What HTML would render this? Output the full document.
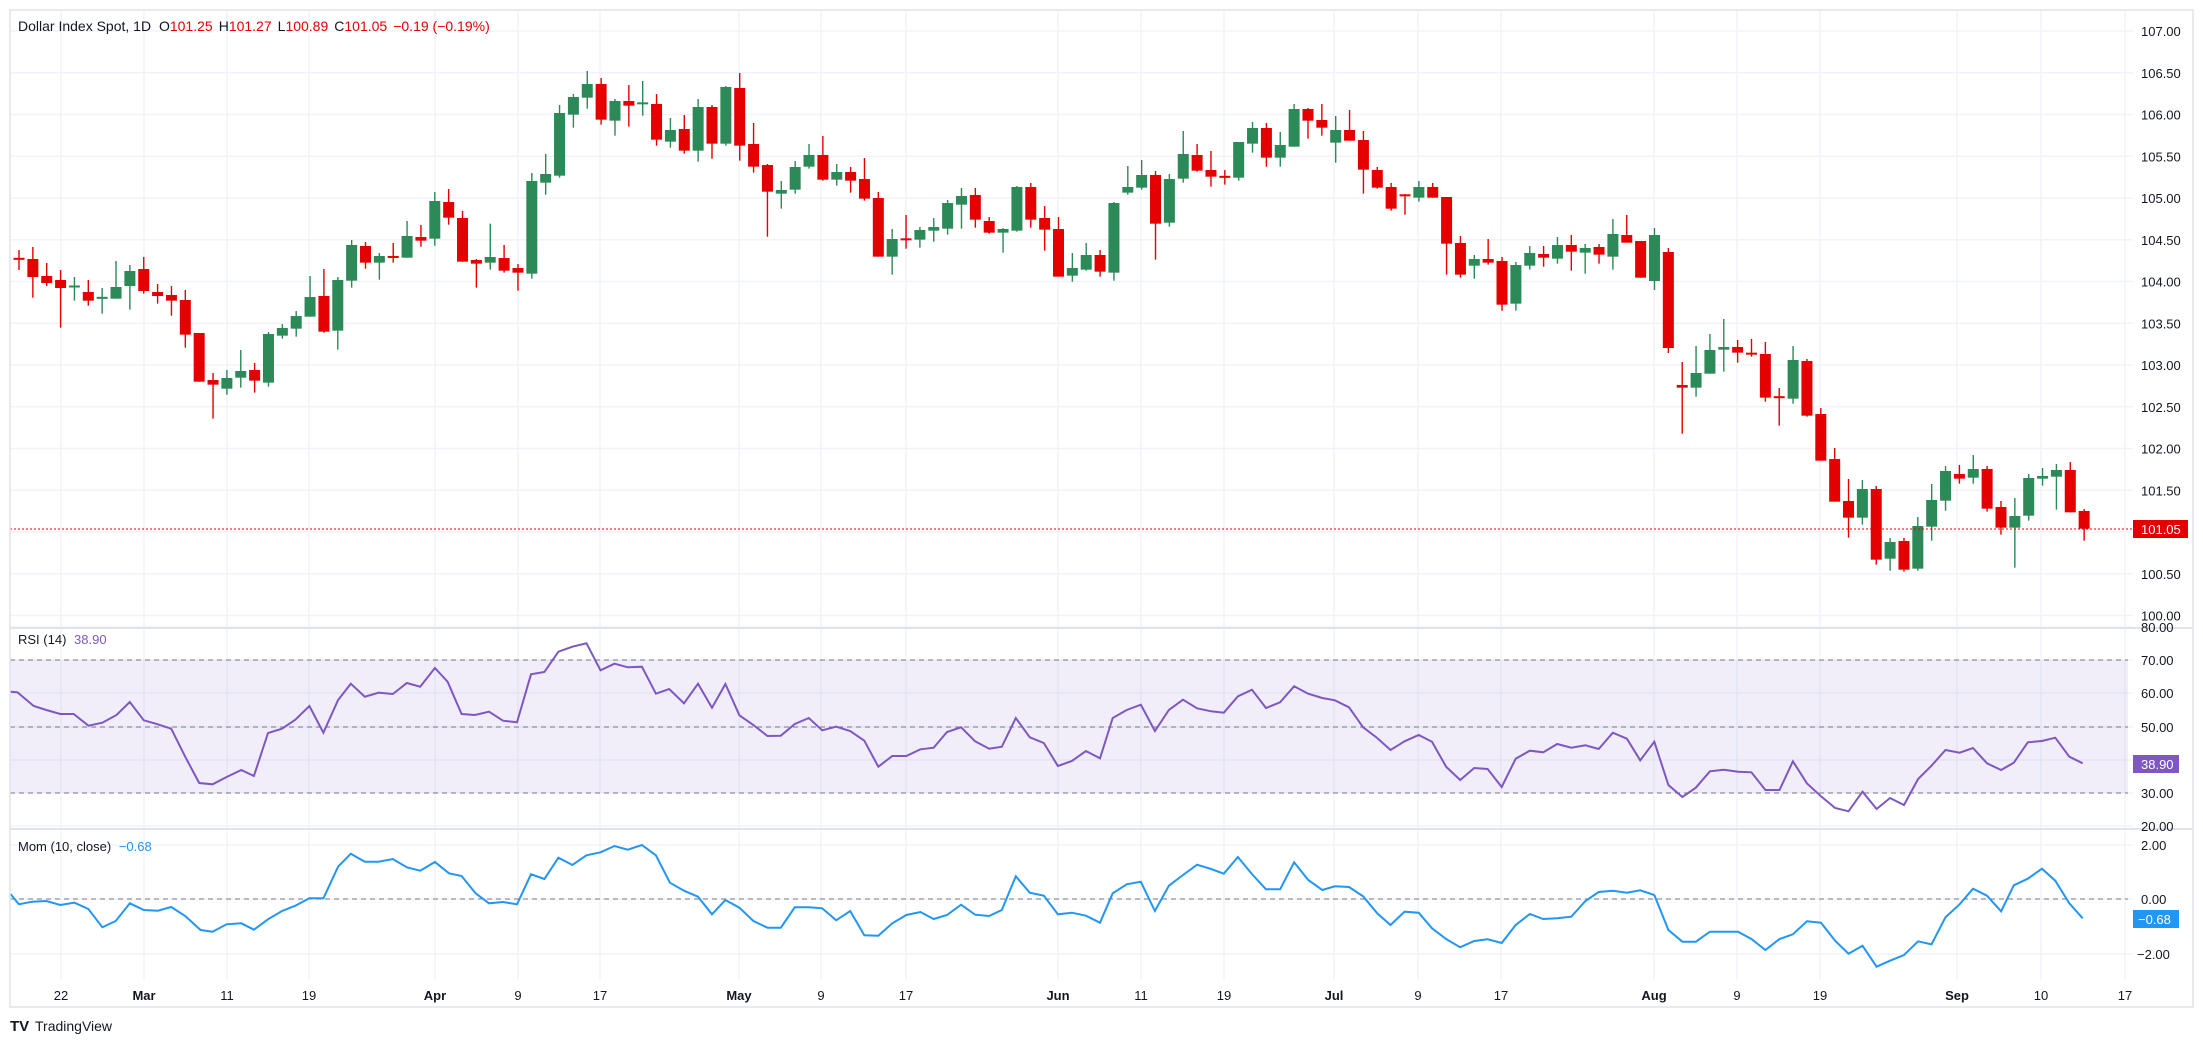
<!DOCTYPE html>
<html><head><meta charset="utf-8"><style>
html,body{margin:0;padding:0;background:#fff;}
svg{display:block;font-family:"Liberation Sans",sans-serif;}
</style></head><body>
<svg id="s" width="2203" height="1043" viewBox="0 0 2203 1043" xmlns="http://www.w3.org/2000/svg">
<rect x="0" y="0" width="2203" height="1043" fill="#fff"/>
<g id="grid"></g>
<rect x="10" y="660" width="2118" height="133" fill="#7e57c2" fill-opacity="0.1"/>
<g id="dash" stroke="#787b86" stroke-width="1" stroke-dasharray="5,4">
<line x1="10" x2="2128" y1="660" y2="660"/>
<line x1="10" x2="2128" y1="727" y2="727"/>
<line x1="10" x2="2128" y1="793" y2="793"/>
<line x1="10" x2="2128" y1="899" y2="899"/>
</g>
<g id="candles"></g>
<line x1="10" x2="2133" y1="529" y2="529" stroke="#e50000" stroke-width="1" stroke-dasharray="2,2"/>
<polyline id="rsi" fill="none" stroke="#7e57c2" stroke-width="2"/>
<polyline id="mom" fill="none" stroke="#2196f3" stroke-width="2"/>
<!-- frame -->
<rect x="10" y="10" width="2183" height="997" fill="none" stroke="#e0e3eb" stroke-width="1.5"/>
<line x1="10" x2="2193" y1="628" y2="628" stroke="#e0e3eb" stroke-width="2"/>
<line x1="10" x2="2193" y1="829" y2="829" stroke="#e0e3eb" stroke-width="2"/>
<g id="axis" font-size="13" fill="#131722"></g>
<text x="18" y="31" font-size="14" fill="#131722">Dollar Index Spot, 1D <tspan dx="4">O</tspan><tspan fill="#e50000">101.25</tspan><tspan dx="6">H</tspan><tspan fill="#e50000">101.27</tspan><tspan dx="6">L</tspan><tspan fill="#e50000">100.89</tspan><tspan dx="6">C</tspan><tspan fill="#e50000">101.05</tspan><tspan dx="6" fill="#e50000">−0.19 (−0.19%)</tspan></text>
<text x="18" y="644" font-size="13" fill="#131722">RSI (14) <tspan dx="4" fill="#7e57c2">38.90</tspan></text>
<text x="18" y="851" font-size="13" fill="#131722">Mom (10, close) <tspan dx="4" fill="#2196f3">−0.68</tspan></text>
<rect x="2133" y="520" width="55" height="18" fill="#e50000"/>
<text x="2141" y="534" font-size="13" fill="#fff">101.05</text>
<rect x="2133" y="755" width="46" height="18" fill="#7e57c2"/>
<text x="2141" y="769" font-size="13" fill="#fff">38.90</text>
<rect x="2133" y="910" width="46" height="18" fill="#2196f3"/>
<text x="2138" y="924" font-size="13" fill="#fff">−0.68</text>
<text x="10" y="1031" font-size="15" font-weight="bold" fill="#131722">TV</text>
<text x="35" y="1031" font-size="14" fill="#131722">TradingView</text>
</svg>
<script>
var NS="http://www.w3.org/2000/svg";
function el(p,t,a,txt){var e=document.createElementNS(NS,t);for(var k in a)e.setAttribute(k,a[k]);if(txt!==undefined)e.textContent=txt;p.appendChild(e);return e;}
var grid=document.getElementById('grid'),axis=document.getElementById('axis');
// price grid
var prices=['107.00','106.50','106.00','105.50','105.00','104.50','104.00','103.50','103.00','102.50','102.00','101.50','101.00','100.50','100.00'];
for(var k=0;k<15;k++){var y=31+k*41.75;el(grid,'line',{x1:10,x2:2133,y1:y,y2:y,stroke:'#f0f3fa','stroke-width':1.5});
 if(prices[k]!=='101.00')el(axis,'text',{x:2141,y:y+5},prices[k]);}
// rsi grid
[[627,'80.00'],[660,'70.00'],[693,'60.00'],[727,'50.00'],[760,'40.00'],[793,'30.00'],[826,'20.00']].forEach(function(a){
 el(grid,'line',{x1:10,x2:2133,y1:a[0],y2:a[0],stroke:'#f0f3fa','stroke-width':1.5});el(axis,'text',{x:2141,y:a[0]+5},a[1]);});
[[845,'2.00'],[899,'0.00'],[954,'−2.00']].forEach(function(a){
 el(grid,'line',{x1:10,x2:2133,y1:a[0],y2:a[0],stroke:'#f0f3fa','stroke-width':1.5});el(axis,'text',{x:a[1][0]=='−'?2137:2141,y:a[0]+5},a[1]);});
// date grid
[[61,'22',0],[144,'Mar',1],[227,'11',0],[309,'19',0],[435,'Apr',1],[518,'9',0],[600,'17',0],[739,'May',1],[821,'9',0],[906,'17',0],[1058,'Jun',1],[1141,'11',0],[1224,'19',0],[1334,'Jul',1],[1418,'9',0],[1501,'17',0],[1654,'Aug',1],[1737,'9',0],[1820,'19',0],[1957,'Sep',1],[2041,'10',0],[2125,'17',0]].forEach(function(a){
 el(grid,'line',{x1:a[0],x2:a[0],y1:10,y2:980,stroke:'#f0f3fa','stroke-width':1.5});
 var t=el(axis,'text',{x:a[0],y:1000,'text-anchor':'middle'},a[1]);if(a[2])t.setAttribute('font-weight','bold');});
// candles
var A="R,654,659,630,690|R,657,711,621,773|R,708,729,669,738|R,720,744,690,863|G,738,741,711,782|R,756,782,720,797|G,771,776,744,821|G,741,776,663,776|G,693,738,675,809|R,687,753,651,761|R,756,768,732,791|R,765,782,738,827|R,780,884,750,923|R,879,1025,879,1025|R,1020,1034,999,1136|G,1014,1046,990,1064|G,993,1013,930,1043|R,990,1022,969,1058|G,882,1028,876,1040|G,864,887,852,896|G,828,866,813,890|G,771,830,708,830|R,768,875,687,878|G,720,872,711,929|G,615,722,600,743|R,618,668,606,686|G,648,668,639,719|R,648,654,609,668|G,588,653,543,653|R,591,602,555,620|G,483,596,456,617|R,486,533,447,554|R,534,665,513,665|R,660,671,657,743|G,651,668,551,689|R,654,692,615,698|R,684,698,672,752|G,423,701,399,716|G,402,428,342,464|G,219,407,195,413|G,171,224,162,263|G,132,173,93,206|R,132,239,114,254|G,183,242,177,287|R,183,197,135,260|G,189,191,123,227|R,192,299,162,317|G,270,305,234,323|R,267,332,225,341|G,201,332,177,365|R,201,311,195,356|G,141,311,138,317|R,144,317,99,362|R,312,380,249,398|R,375,455,372,590|G,450,461,423,506|G,381,449,363,461|G,345,380,312,386|R,345,419,288,422|G,396,419,372,437|R,396,422,381,458|R,417,476,354,482|R,474,650,456,650|G,597,650,567,704|R,597,599,525,626|G,570,599,561,623|G,561,572,534,605|G,489,566,480,584|G,468,494,444,566|R,465,539,444,563|R,543,578,531,581|G,567,578,564,638|G,441,572,438,575|R,441,539,429,563|R,534,569,498,632|R,567,710,531,710|G,684,707,639,725|G,645,689,609,692|R,645,695,630,710|G,489,698,486,722|G,441,458,378,464|G,405,443,360,449|R,405,551,393,659|G,417,548,402,560|G,342,416,273,428|R,345,392,312,395|R,390,410,333,440|R,408,413,390,434|G,306,413,306,422|G,264,311,246,338|R,264,353,249,380|G,315,353,276,380|G,207,320,192,320|R,207,242,204,296|R,240,263,192,287|G,270,308,228,368|R,270,302,210,302|R,300,389,273,461|R,390,443,381,446|R,441,506,429,512|R,465,467,462,524|G,441,473,423,485|R,441,473,429,473|R,471,611,471,704|R,609,704,588,713|G,657,677,645,716|R,657,668,597,674|R,663,794,651,812|G,675,791,666,812|G,639,677,618,689|R,642,653,618,680|G,615,656,591,671|R,615,635,585,692|G,624,638,612,701|R,621,644,612,671|G,582,650,537,689|R,585,608,525,608|R,603,713,603,713";
var B="R,255,263,186,401|G,219,263,138,290|G,150,221,102,221|G,141,149,57,215|R,141,158,120,188|R,158,164,117,170|R,162,293,126,305|R,290,293,264,377|G,180,296,138,311|R,183,347,177,350|R,342,482,324,482|R,477,605,444,605|R,603,653,537,713|G,567,653,540,674|R,567,779,558,794|G,726,776,714,812|R,723,809,714,815|G,678,806,651,812|G,600,680,552,722|G,513,602,498,632|R,522,536,495,551|G,507,533,465,551|R,507,626,498,635|R,621,683,603,704|G,648,683,594,803|G,534,647,522,662|G,528,536,504,557|G,510,530,492,629|R,510,637,486,637|R,633,686,627,722";
var C=[];
A.split('|').forEach(function(s){var p=s.split(',');C.push([p[0],40+p[1]/3,40+p[2]/3,40+p[3]/3,40+p[4]/3]);});
C.push(['G',235,281,228,290]);
C.push(['R',252,348,248,353]);
B.split('|').forEach(function(s){var p=s.split(',');C.push([p[0],300+p[1]/3,300+p[2]/3,300+p[3]/3,300+p[4]/3]);});
var cg=document.getElementById('candles');
C.forEach(function(c,i){var x=19+i*13.86;var col=c[0]=='G'?'#2b8a57':'#e50000';
 el(cg,'rect',{x:x-0.7,y:c[3],width:1.4,height:Math.max(1,c[4]-c[3]),fill:col});
 var h=c[2]-c[1];if(h<2){el(cg,'rect',{x:x-5.5,y:(c[1]+c[2])/2-1,width:11,height:2,fill:col});}
 else el(cg,'rect',{x:x-5.5,y:c[1],width:11,height:h,fill:col});});
function pts(s,sx,ox){var a=s.split(' ').map(Number),o=[];for(var i=0;i<a.length;i+=2)o.push((ox+a[i]/sx).toFixed(1)+','+(620+a[i+1]/3).toFixed(1));return o;}
var r7="15 215 25 217 48 258 66 270 86 282 105 282 126 317 146 308 166 285 185 246 205 301 225 313 244 326 264 410 284 489 303 493 323 471 344 450 362 468 382 339 402 326 421 299 441 258 461 338 482 240 500 191 520 230 540 218 560 222 580 189 599 200 620 144 638 185 658 282 677 285 697 275 717 302 737 307 757 163 776 156 796 95 816 80 836 70 856 151 876 131 895 142 915 140 935 221 954 207 975 250 995 191 1015 263 1034 192 1054 286 1074 315 1094 348 1113 347 1133 312 1153 294 1172 331 1192 320 1212 333 1232 362 1252 440 1272 408 1292 408 1312 388 1331 383 1350 336 1370 322 1390 364 1410 386 1428 380 1448 294 1468 352 1488 369 1508 438 1528 423 1548 393";
var r8="0 415 18 294 38 270 58 254 78 333 98 270 118 239 138 265 158 274 176 278 196 229 216 209 236 264 256 247 276 199 296 221 316 234 334 241 354 262 374 322 394 354 413 390 433 364 453 345 472 365 492 440 512 480 532 444 551 447 571 501 591 416 611 392 630 397 650 372 670 383 690 376 709 387 729 338 749 356 768 421 788 365 808 495 828 531 847 503 867 454 887 449 907 455 926 457 946 510 966 510 985 424 1005 490 1025 529 1045 564 1064 574 1084 515 1104 567 1123 534 1143 555 1163 477 1182 437 1202 390 1222 398 1241 384 1261 430 1281 450 1299 428 1319 367 1339 363 1358 353 1378 410 1397 430";
var m7="15 822 27 853 46 845 66 843 86 855 106 848 126 867 146 922 165 903 185 850 205 870 225 872 244 861 264 888 286 930 303 935 323 913 344 910 362 929 382 898 402 873 421 857 441 835 461 835 482 740 500 701 520 725 540 725 560 717 580 742 599 752 620 726 640 760 658 768 678 820 697 850 717 846 737 853 757 763 776 777 796 713 816 735 836 706 856 697 876 678 895 689 915 675 935 706 955 788 975 812 995 830 1015 883 1034 840 1054 863 1074 903 1094 923 1113 923 1133 862 1153 862 1172 865 1192 901 1212 873 1232 946 1252 947 1272 910 1292 885 1312 876 1331 897 1350 885 1370 854 1390 884 1410 888 1428 870 1448 769 1468 818 1488 827 1508 883 1528 878 1548 887";
var m8="0 908 18 820 38 793 58 785 78 873 98 797 118 765 138 734 158 747 176 761 196 711 216 762 236 808 256 808 276 727 296 780 316 810 334 799 354 801 374 829 394 880 413 915 433 875 453 878 472 925 492 957 512 982 532 963 551 958 571 969 591 915 611 882 630 897 650 895 670 890 690 843 709 816 729 812 749 818 768 811 788 825 808 930 828 965 847 965 867 935 887 935 907 935 926 957 946 990 966 957 985 943 1005 904 1025 908 1045 962 1064 1001 1084 977 1104 1040 1123 1022 1143 1005 1163 964 1182 973 1202 892 1222 853 1241 806 1261 827 1281 874 1299 796 1319 776 1339 746 1358 782 1378 850 1397 895";
document.getElementById('rsi').setAttribute('points',pts(r7,1.4255,0).concat(pts(r8,1.4216,1100)).join(' '));
document.getElementById('mom').setAttribute('points',pts(m7,1.4255,0).concat(pts(m8,1.4216,1100)).join(' '));
</script>
</body></html>
